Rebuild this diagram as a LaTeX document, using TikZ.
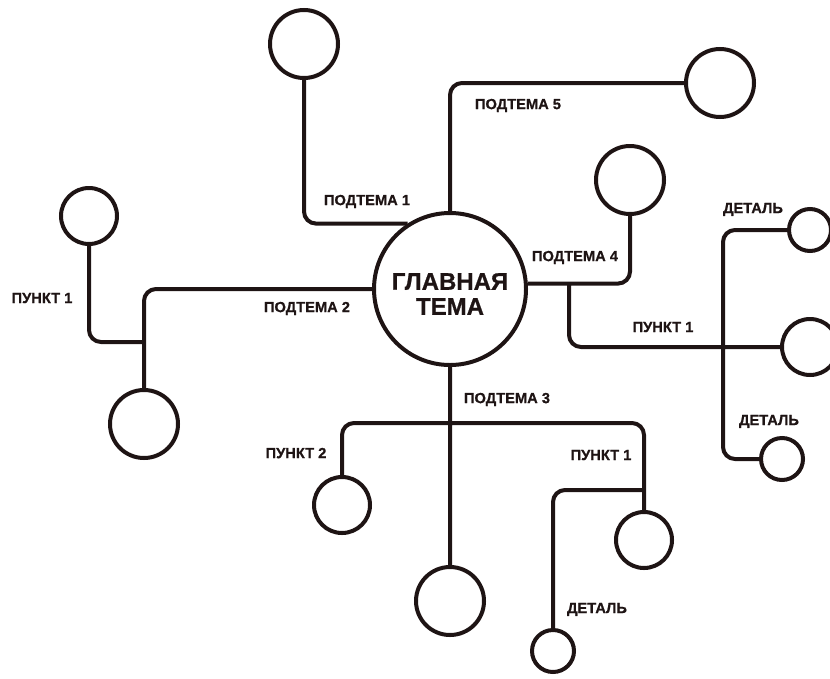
\documentclass[tikz,border=0pt]{standalone}
\usepackage{fontspec}
\setmainfont{Liberation Sans}
\newfontfamily\heavyfont[FakeBold=0.8]{Liberation Sans Bold}
\usepackage{xcolor}
\usetikzlibrary{
    positioning,
    calc
}
\definecolor{ink}{RGB}{30,20,20}

\begin{document}
\begin{tikzpicture}[x=0.75pt, y=-0.75pt,
    link/.style={draw=ink, line width=3pt, rounded corners=9pt},
    topic/.style={circle, draw=ink, line width=3pt, inner sep=0pt},
    maintopic/.style={topic, minimum size=114pt},
    subtopic/.style={topic, minimum size=51pt},
    point/.style={topic, minimum size=42pt},
    detail/.style={topic, minimum size=31.5pt},
    lbl/.style={text=ink, inner sep=0pt, text depth=0pt, font=\heavyfont\fontsize{11}{12}\selectfont}]
                        \clip (0,0) rectangle (830,678);
                        \node[maintopic] (main) at (450,289) {};
                        \node[text=ink, align=center, font=\heavyfont\fontsize{18}{18.75}\selectfont] (maintext) at (450,294) {ГЛАВНАЯ\\ТЕМА};
                        \node[subtopic] (s1) at (304,44) {};
                        \node[subtopic] (s5) at (720,83) {};
                        \node[subtopic] (s4) at (630,180) {};
                        \node[subtopic] (s2) at (144,424) {};
                        \node[subtopic] (s3) at (450,601) {};
                        \node[point] (p4) at (810,347) {};
                        \node[point] (p2) at (89,216) {};
                        \node[point] (p3b) at (342,505) {};
                        \node[point] (p3a) at (644,540) {};
                        \node[detail] (d4a) at (810,230) {};
                        \node[detail] (d4b) at (782,459) {};
                        \node[detail] (d3) at (553,651) {};
                        \coordinate (j4) at (569,0);
                        \coordinate (k4) at (723,347);
                        \coordinate (j2) at (144,342);
                        \coordinate (j3) at (450,423);
                        \coordinate (k3) at (644,490);
                        \draw[link]
                        (s1) |- (main.123.6)
                        (main.north) |- (s5)
                        (s4) |- (main.4)
                        (main.4 -| j4) |- (p4)
                        (d4a) -| (k4) |- (d4b)
                        (main.west) -| (s2)
                        (p2) |- (j2)
                        (main.south) -- (s3)
                        (p3b) |- (j3) -| (p3a)
                        (d3) |- (k3);
                        \node[lbl] (l1) at (367,200) {ПОДТЕМА 1};
                        \node[lbl] (l5) at (518,104) {ПОДТЕМА 5};
                        \node[lbl] (l4) at (575,256) {ПОДТЕМА 4};
                        \node[lbl] (l2) at (307,307) {ПОДТЕМА 2};
                        \node[lbl] (l3) at (507,398) {ПОДТЕМА 3};
                        \node[lbl] (lp4) at (663,327) {ПУНКТ 1};
                        \node[lbl] (lp2) at (42,298) {ПУНКТ 1};
                        \node[lbl] (lp3b) at (296,453) {ПУНКТ 2};
                        \node[lbl] (lp3a) at (601,455) {ПУНКТ 1};
                        \node[lbl] (ld4a) at (753,208) {ДЕТАЛЬ};
                        \node[lbl] (ld4b) at (769,420) {ДЕТАЛЬ};
                        \node[lbl] (ld3) at (597,608) {ДЕТАЛЬ};
                    \end{tikzpicture}
\end{document}
